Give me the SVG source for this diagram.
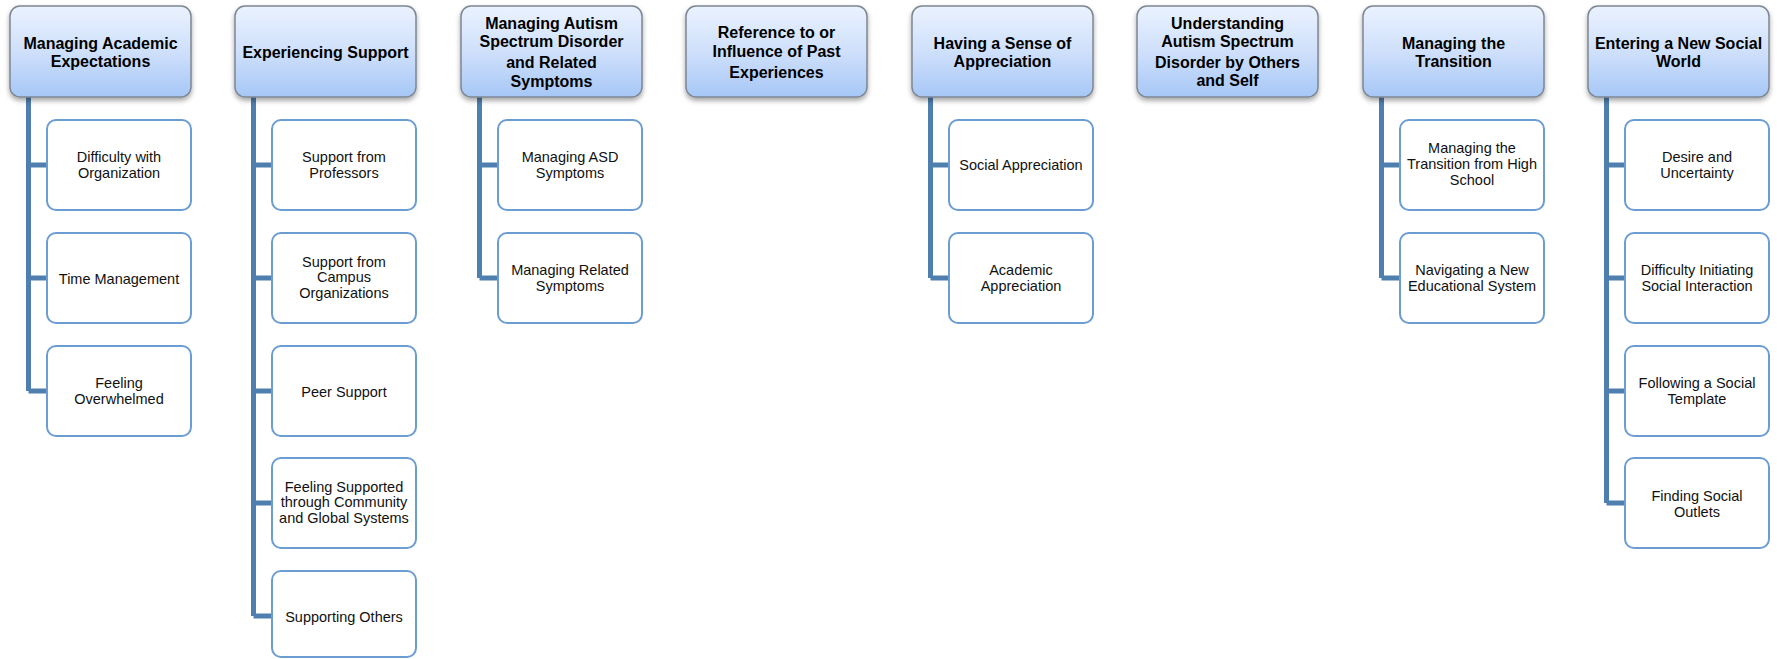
<svg xmlns="http://www.w3.org/2000/svg" width="1777" height="659" viewBox="0 0 1777 659">
<defs>
<linearGradient id="hg" x1="0" y1="0" x2="0" y2="1">
<stop offset="0" stop-color="#eaf2fe"/>
<stop offset="0.5" stop-color="#cfe0fb"/>
<stop offset="1" stop-color="#a6c7f6"/>
</linearGradient>
<filter id="sh" x="-10%" y="-10%" width="120%" height="135%">
<feDropShadow dx="0" dy="3" stdDeviation="2.5" flood-color="#000" flood-opacity="0.35"/>
</filter>
<style>
.hdr{fill:url(#hg);stroke:#7d8793;stroke-width:1.5;filter:url(#sh)}
.ht{font-family:"Liberation Sans",Arial,sans-serif;font-weight:bold;font-size:16px;fill:#000;text-anchor:middle}
.ch{fill:#fff;stroke:#6b9dd3;stroke-width:2}
.ct{font-family:"Liberation Sans",Arial,sans-serif;font-size:14.5px;fill:#111;text-anchor:middle}
.cn{fill:none;stroke:#4f7fae;stroke-width:5;stroke-linejoin:miter}
</style>
</defs>
<rect width="1777" height="659" fill="#fff"/>
<g id="connectors">
<path class="cn" d="M28.5 97 V391 M28.5 165 H46 M28.5 278 H46 M28.5 391 H46"/>
<path class="cn" d="M253.5 97 V616 M253.5 165 H272 M253.5 278 H272 M253.5 391 H272 M253.5 503 H272 M253.5 616 H272"/>
<path class="cn" d="M479.5 97 V278 M479.5 165 H498 M479.5 278 H498"/>
<path class="cn" d="M930.5 97 V278 M930.5 165 H949 M930.5 278 H949"/>
<path class="cn" d="M1381.5 97 V278 M1381.5 165 H1400 M1381.5 278 H1400"/>
<path class="cn" d="M1606.5 97 V503 M1606.5 165 H1625 M1606.5 278 H1625 M1606.5 391 H1625 M1606.5 503 H1625"/>
</g>
<g id="h1"><rect class="hdr" x="10" y="6" width="181" height="91" rx="10"/><text class="ht" x="100.5" y="48.5">Managing Academic</text><text class="ht" x="100.5" y="66.5">Expectations</text></g>
<g id="h2"><rect class="hdr" x="235" y="6" width="181" height="91" rx="10"/><text class="ht" x="325.5" y="58">Experiencing Support</text></g>
<g id="h3"><rect class="hdr" x="461" y="6" width="181" height="91" rx="10"/><text class="ht" x="551.5" y="29">Managing Autism</text><text class="ht" x="551.5" y="47">Spectrum Disorder</text><text class="ht" x="551.5" y="68">and Related</text><text class="ht" x="551.5" y="86.5">Symptoms</text></g>
<g id="h4"><rect class="hdr" x="686" y="6" width="181" height="91" rx="10"/><text class="ht" x="776.5" y="38">Reference to or</text><text class="ht" x="776.5" y="57">Influence of Past</text><text class="ht" x="776.5" y="78">Experiences</text></g>
<g id="h5"><rect class="hdr" x="912" y="6" width="181" height="91" rx="10"/><text class="ht" x="1002.5" y="48.5">Having a Sense of</text><text class="ht" x="1002.5" y="66.5">Appreciation</text></g>
<g id="h6"><rect class="hdr" x="1137" y="6" width="181" height="91" rx="10"/><text class="ht" x="1227.5" y="29">Understanding</text><text class="ht" x="1227.5" y="47">Autism Spectrum</text><text class="ht" x="1227.5" y="68">Disorder by Others</text><text class="ht" x="1227.5" y="86">and Self</text></g>
<g id="h7"><rect class="hdr" x="1363" y="6" width="181" height="91" rx="10"/><text class="ht" x="1453.5" y="48.5">Managing the</text><text class="ht" x="1453.5" y="66.5">Transition</text></g>
<g id="h8"><rect class="hdr" x="1588" y="6" width="181" height="91" rx="10"/><text class="ht" x="1678.5" y="48.5">Entering a New Social</text><text class="ht" x="1678.5" y="66.5">World</text></g>

<g id="c1a"><rect class="ch" x="47" y="120" width="144" height="90" rx="9"/><text class="ct" x="119" y="161.5">Difficulty with</text><text class="ct" x="119" y="177.5">Organization</text></g>
<g id="c1b"><rect class="ch" x="47" y="233" width="144" height="90" rx="9"/><text class="ct" x="119" y="283.5">Time Management</text></g>
<g id="c1c"><rect class="ch" x="47" y="346" width="144" height="90" rx="9"/><text class="ct" x="119" y="387.5">Feeling</text><text class="ct" x="119" y="403.5">Overwhelmed</text></g>

<g id="c2a"><rect class="ch" x="272" y="120" width="144" height="90" rx="9"/><text class="ct" x="344" y="161.5">Support from</text><text class="ct" x="344" y="177.5">Professors</text></g>
<g id="c2b"><rect class="ch" x="272" y="233" width="144" height="90" rx="9"/><text class="ct" x="344" y="266.5">Support from</text><text class="ct" x="344" y="282">Campus</text><text class="ct" x="344" y="297.5">Organizations</text></g>
<g id="c2c"><rect class="ch" x="272" y="346" width="144" height="90" rx="9"/><text class="ct" x="344" y="396.5">Peer Support</text></g>
<g id="c2d"><rect class="ch" x="272" y="458" width="144" height="90" rx="9"/><text class="ct" x="344" y="491.5">Feeling Supported</text><text class="ct" x="344" y="507">through Community</text><text class="ct" x="344" y="522.5">and Global Systems</text></g>
<g id="c2e"><rect class="ch" x="272" y="571" width="144" height="86" rx="9"/><text class="ct" x="344" y="622">Supporting Others</text></g>

<g id="c3a"><rect class="ch" x="498" y="120" width="144" height="90" rx="9"/><text class="ct" x="570" y="161.5">Managing ASD</text><text class="ct" x="570" y="177.5">Symptoms</text></g>
<g id="c3b"><rect class="ch" x="498" y="233" width="144" height="90" rx="9"/><text class="ct" x="570" y="274.5">Managing Related</text><text class="ct" x="570" y="290.5">Symptoms</text></g>

<g id="c5a"><rect class="ch" x="949" y="120" width="144" height="90" rx="9"/><text class="ct" x="1021" y="170">Social Appreciation</text></g>
<g id="c5b"><rect class="ch" x="949" y="233" width="144" height="90" rx="9"/><text class="ct" x="1021" y="274.5">Academic</text><text class="ct" x="1021" y="290.5">Appreciation</text></g>

<g id="c7a"><rect class="ch" x="1400" y="120" width="144" height="90" rx="9"/><text class="ct" x="1472" y="152.5">Managing the</text><text class="ct" x="1472" y="168.5">Transition from High</text><text class="ct" x="1472" y="184.5">School</text></g>
<g id="c7b"><rect class="ch" x="1400" y="233" width="144" height="90" rx="9"/><text class="ct" x="1472" y="274.5">Navigating a New</text><text class="ct" x="1472" y="290.5">Educational System</text></g>

<g id="c8a"><rect class="ch" x="1625" y="120" width="144" height="90" rx="9"/><text class="ct" x="1697" y="161.5">Desire and</text><text class="ct" x="1697" y="177.5">Uncertainty</text></g>
<g id="c8b"><rect class="ch" x="1625" y="233" width="144" height="90" rx="9"/><text class="ct" x="1697" y="274.5">Difficulty Initiating</text><text class="ct" x="1697" y="290.5">Social Interaction</text></g>
<g id="c8c"><rect class="ch" x="1625" y="346" width="144" height="90" rx="9"/><text class="ct" x="1697" y="387.5">Following a Social</text><text class="ct" x="1697" y="403.5">Template</text></g>
<g id="c8d"><rect class="ch" x="1625" y="458" width="144" height="90" rx="9"/><text class="ct" x="1697" y="500.5">Finding Social</text><text class="ct" x="1697" y="516.5">Outlets</text></g>
</svg>
